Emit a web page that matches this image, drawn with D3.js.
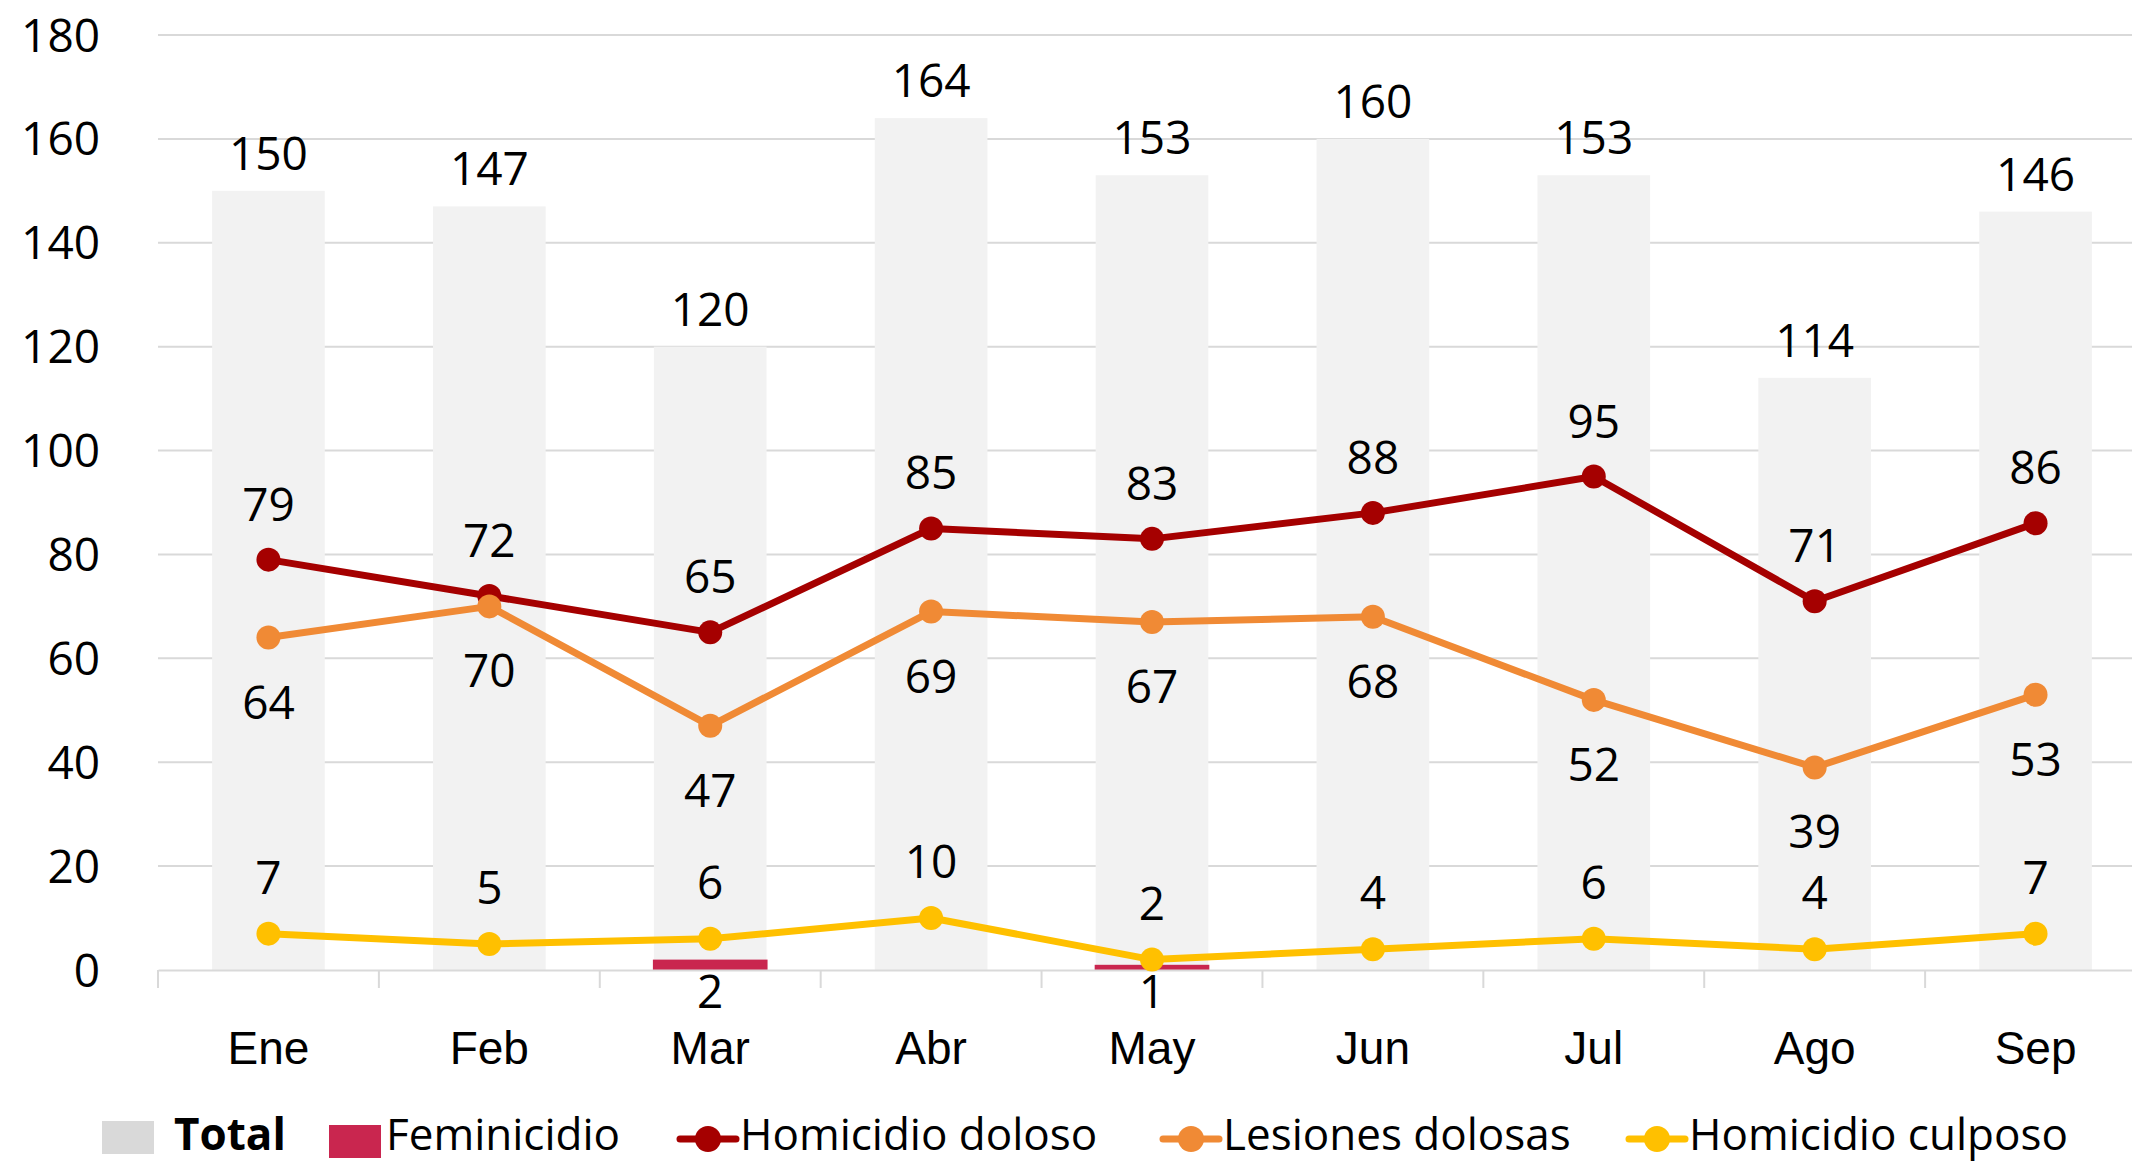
<!DOCTYPE html>
<html>
<head>
<meta charset="utf-8">
<script src="https://cdn.jsdelivr.net/npm/d3@7"></script>
<style>
  body { margin: 0; background: #ffffff; }
  svg { display: block; font-family: "Open Sans", sans-serif; }
</style>
</head>
<body>
<script>
var months = ["Ene", "Feb", "Mar", "Abr", "May", "Jun", "Jul", "Ago", "Sep"];
var total = [150, 147, 120, 164, 153, 160, 153, 114, 146];
var feminicidio = [0, 0, 2, 0, 1, 0, 0, 0, 0];
var homicidioDoloso = [79, 72, 65, 85, 83, 88, 95, 71, 86];
var lesionesDolosas = [64, 70, 47, 69, 67, 68, 52, 39, 53];
var homicidioCulposo = [7, 5, 6, 10, 2, 4, 6, 4, 7];
var yTicks = [0, 20, 40, 60, 80, 100, 120, 140, 160, 180];

var W = 2132, H = 1165;
var fs = 46;
var legFs = 44;

var svg = d3.select("body")
    .append("svg")
    .attr("width", W)
    .attr("height", H);

var x = d3.scaleBand()
    .domain(months)
    .range([158, 2146])
    .paddingInner(0)
    .paddingOuter(0);

var y = d3.scaleLinear()
    .domain([0, 180])
    .range([970, 35]);

var barW = x.bandwidth() * 0.51;
var cx = function (m) { return x(m) + x.bandwidth() / 2; };

// gridlines
svg.append("g")
    .selectAll("line")
    .data(yTicks.filter(function (d) { return d > 0; }))
    .enter()
        .append("line")
        .attr("x1", 158)
        .attr("x2", W)
        .attr("y1", function (d) { return y(d); })
        .attr("y2", function (d) { return y(d); })
        .attr("stroke", "#d9d9d9")
        .attr("stroke-width", 2);

// y tick labels
svg.append("g")
    .selectAll("text")
    .data(yTicks)
    .enter()
        .append("text")
        .attr("x", 100)
        .attr("y", function (d) { return y(d); })
        .attr("dy", "0.36em")
        .attr("text-anchor", "end")
        .style("font-size", fs + "px")
        .attr("fill", "#000")
        .text(function (d) { return d; });

// total bars
svg.append("g")
    .selectAll("rect")
    .data(total)
    .enter()
        .append("rect")
        .attr("x", function (d, i) { return cx(months[i]) - barW / 2; })
        .attr("width", barW)
        .attr("y", function (d) { return y(d); })
        .attr("height", function (d) { return y(0) - y(d); })
        .attr("fill", "#f2f2f2");

// feminicidio bars
svg.append("g")
    .selectAll("rect")
    .data(feminicidio)
    .enter()
        .append("rect")
        .attr("x", function (d, i) { return cx(months[i]) - barW / 2 - 1; })
        .attr("width", barW + 2)
        .attr("y", function (d) { return y(d); })
        .attr("height", function (d) { return y(0) - y(d); })
        .attr("fill", "#c9264f");

// x axis
var xAxis = d3.axisBottom(x).tickSize(0).tickFormat("");
var ax = svg.append("g")
    .attr("transform", "translate(0," + y(0) + ")")
    .call(xAxis);
ax.select(".domain").attr("stroke", "#d9d9d9").attr("stroke-width", 2);
ax.append("g")
    .selectAll("line")
    .data(months)
    .enter()
        .append("line")
        .attr("x1", function (d) { return x(d); })
        .attr("x2", function (d) { return x(d); })
        .attr("y1", 0)
        .attr("y2", 18)
        .attr("stroke", "#d9d9d9")
        .attr("stroke-width", 2);
ax.append("g")
    .selectAll("text")
    .data(months)
    .enter()
        .append("text")
        .attr("x", function (d) { return cx(d); })
        .attr("y", 94)
        .attr("text-anchor", "middle")
        .attr("fill", "#000")
        .style("font-size", fs + "px")
        .text(function (d) { return d; });

// line series
var series = [
    {name: "Homicidio doloso", values: homicidioDoloso, color: "#a50000", dy: -39},
    {name: "Lesiones dolosas", values: lesionesDolosas, color: "#f08a35", dy: 81},
    {name: "Homicidio culposo", values: homicidioCulposo, color: "#ffc000", dy: -40}
];

var line = d3.line()
    .x(function (d, i) { return cx(months[i]); })
    .y(function (d) { return y(d); });

series.forEach(function (s) {
    var g = svg.append("g");
    g.append("path")
        .attr("d", line(s.values))
        .attr("fill", "none")
        .attr("stroke", s.color)
        .attr("stroke-width", 7)
        .attr("stroke-linejoin", "round");
    g.selectAll("circle")
        .data(s.values)
        .enter()
            .append("circle")
            .attr("cx", function (d, i) { return cx(months[i]); })
            .attr("cy", function (d) { return y(d); })
            .attr("r", 12)
            .attr("fill", s.color);
});

// labels
svg.append("g")
    .selectAll("text")
    .data(total)
    .enter()
        .append("text")
        .attr("x", function (d, i) { return cx(months[i]); })
        .attr("y", function (d) { return y(d) - 21; })
        .attr("text-anchor", "middle")
        .style("font-size", fs + "px")
        .text(function (d) { return d; });

svg.append("g")
    .selectAll("text")
    .data(feminicidio.map(function (v, i) { return {v: v, m: months[i]}; }).filter(function (d) { return d.v > 0; }))
    .enter()
        .append("text")
        .attr("x", function (d) { return cx(d.m); })
        .attr("y", y(0) + 38)
        .attr("text-anchor", "middle")
        .style("font-size", fs + "px")
        .text(function (d) { return d.v; });

series.forEach(function (s) {
    svg.append("g")
        .selectAll("text")
        .data(s.values)
        .enter()
            .append("text")
            .attr("x", function (d, i) { return cx(months[i]); })
            .attr("y", function (d) { return y(d) + s.dy; })
            .attr("text-anchor", "middle")
            .style("font-size", fs + "px")
            .text(function (d) { return d; });
});

// legend
var legY = 1139;
var legBase = 1150;
var leg = svg.append("g");
leg.append("rect").attr("x", 102).attr("y", legY - 18).attr("width", 52).attr("height", 33).attr("fill", "#d9d9d9");
leg.append("text").attr("x", 174).attr("y", legBase)
    .style("font-size", legFs + "px").style("font-weight", "bold").text("Total");
leg.append("rect").attr("x", 329).attr("y", legY - 14).attr("width", 52).attr("height", 33).attr("fill", "#c9264f");
leg.append("text").attr("x", 386).attr("y", legBase)
    .style("font-size", legFs + "px").text("Feminicidio");

var legX = [680, 1163, 1629];
series.forEach(function (s, i) {
    var gx = legX[i];
    leg.append("line").attr("x1", gx).attr("x2", gx + 56).attr("y1", legY).attr("y2", legY)
        .attr("stroke", s.color).attr("stroke-width", 7).attr("stroke-linecap", "round");
    leg.append("circle").attr("cx", gx + 28).attr("cy", legY).attr("r", 13).attr("fill", s.color);
    leg.append("text").attr("x", gx + 60).attr("y", legBase)
        .style("font-size", legFs + "px").text(s.name);
});
</script>
</body>
</html>
